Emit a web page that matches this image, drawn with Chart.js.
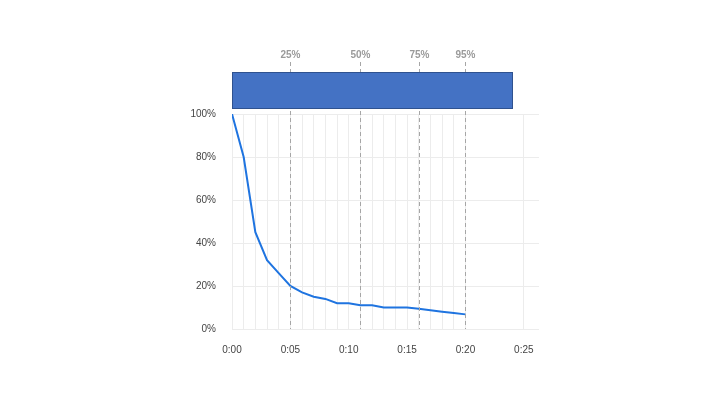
<!DOCTYPE html>
<html>
<head>
<meta charset="utf-8">
<script src="https://cdn.jsdelivr.net/npm/chart.js@4.4.1/dist/chart.umd.min.js"></script>
<style>
    html, body { margin: 0; padding: 0; background: #fff; }
    #wrap { width: 720px; height: 405px; position: relative; }
</style>
</head>
<body>
<div id="wrap"><canvas id="retention"></canvas></div>
<script>
// seconds watched and share of viewers still watching
const seconds = [0, 1, 2, 3, 4, 5, 6, 7, 8, 9, 10, 11, 12, 13, 14, 15, 16, 17, 18, 19, 20];
const retention = [100, 80, 45, 32, 26, 20, 17, 15, 14, 12, 12, 11, 11, 10, 10, 10, 9.4, 8.7, 8, 7.4, 6.8];

// x ticks (gridlines) and the ones that get a label
const xGridSeconds = [0, 1, 2, 3, 4, 5, 6, 7, 8, 9, 10, 11, 12, 13, 14, 15, 16, 17, 18, 19, 20, 25];
const yTicks = [0, 20, 40, 60, 80, 100];

// percentile markers above the plot
const percentileLabels = ["25%", "50%", "75%", "95%"];
const percentileSeconds = [5, 11, 16, 20];

// overall video length bar
const videoStart = 0;
const videoEnd = 24;

function fmtTime(v) {
    const m = Math.floor(v / 60);
    const s = v % 60;
    return m + ":" + (s < 10 ? "0" + s : s);
}

const topOverlay = {
    id: "topOverlay",
    afterDatasetsDraw(chart) {
        const ctx = chart.ctx;
        const x = chart.scales.x;
        const area = chart.chartArea;

        // dashed percentile lines + labels
        ctx.save();
        ctx.strokeStyle = "#a6a6a6";
        ctx.lineWidth = 1;
        ctx.setLineDash([4, 3]);
        ctx.font = "bold 10px 'Liberation Sans', Arial, sans-serif";
        ctx.fillStyle = "#9a9a9a";
        ctx.textAlign = "center";
        ctx.textBaseline = "middle";
        percentileSeconds.forEach((sec, i) => {
            const px = Math.round(x.getPixelForValue(sec)) + 0.5;
            ctx.beginPath();
            ctx.moveTo(px, 62);
            ctx.lineTo(px, area.bottom);
            ctx.stroke();
            ctx.fillText(percentileLabels[i], px, 55);
        });
        ctx.restore();

        // the bar sits on top of the dashed lines
        const x0 = x.getPixelForValue(videoStart);
        const x1 = x.getPixelForValue(videoEnd);
        ctx.save();
        ctx.fillStyle = "#4472c4";
        ctx.strokeStyle = "#2f528f";
        ctx.lineWidth = 1;
        ctx.fillRect(x0, 72, x1 - x0, 36);
        ctx.strokeRect(Math.round(x0) + 0.5, 72.5, Math.round(x1 - x0), 36);
        ctx.restore();
    }
};

new Chart(document.getElementById("retention"), {
    type: "line",
    data: {
        datasets: [{
            data: seconds.map((s, i) => ({ x: s, y: retention[i] })),
            borderColor: "#1f74e0",
            borderWidth: 2,
            pointRadius: 0,
            tension: 0,
            fill: false
        }]
    },
    options: {
        responsive: true,
        maintainAspectRatio: false,
        animation: false,
        layout: { padding: { top: 114, right: 181, bottom: 0, left: 0 } },
        plugins: {
            legend: { display: false },
            tooltip: { enabled: false }
        },
        scales: {
            x: {
                type: "linear",
                min: 0,
                max: 26.3,
                afterBuildTicks: (axis) => {
                    axis.ticks = xGridSeconds.map(v => ({ value: v }));
                },
                afterFit: (axis) => { axis.height = 76; },
                grid: { color: "#ececec", drawTicks: false },
                border: { display: false },
                ticks: {
                    autoSkip: false,
                    maxRotation: 0,
                    padding: 15,
                    color: "#444",
                    font: { size: 10, family: "'Liberation Sans', Arial, sans-serif" },
                    callback: (v) => (v % 5 === 0 ? fmtTime(v) : "")
                }
            },
            y: {
                min: 0,
                max: 100,
                afterBuildTicks: (axis) => {
                    axis.ticks = yTicks.map(v => ({ value: v }));
                },
                afterFit: (axis) => { axis.width = 232; },
                grid: { color: "#ececec", drawTicks: false },
                border: { display: false },
                ticks: {
                    padding: 16,
                    color: "#444",
                    font: { size: 10, family: "'Liberation Sans', Arial, sans-serif" },
                    callback: (v) => v + "%"
                }
            }
        }
    },
    plugins: [topOverlay]
});
</script>
</body>
</html>
